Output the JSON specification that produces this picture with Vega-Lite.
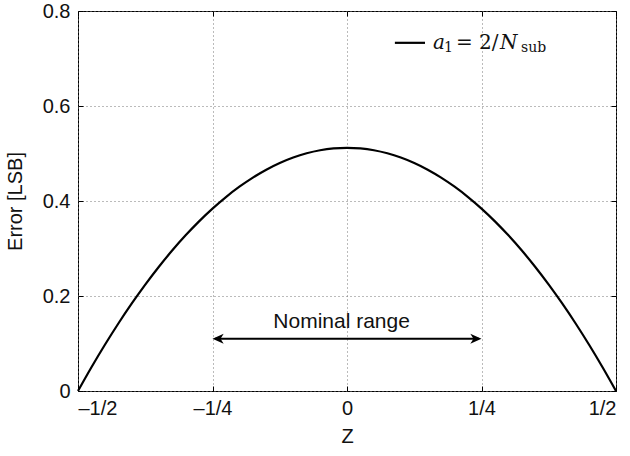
{
  "$schema": "https://vega.github.io/schema/vega-lite/v6.json",
  "width": 538,
  "height": 380,
  "autosize": "none",
  "padding": {"left": 78, "top": 11, "right": 14, "bottom": 65},
  "background": "white",
  "config": {
    "view": {"stroke": "black", "strokeWidth": 1},
    "font": "Liberation Sans",
    "axis": {
      "domain": false,
      "tickColor": "black",
      "tickWidth": 1,
      "labelColor": "#111111",
      "titleColor": "#111111",
      "labelFont": "Liberation Sans",
      "titleFont": "Liberation Sans",
      "labelFontSize": 20,
      "titleFontSize": 20,
      "titleFontWeight": "normal",
      "labelFontWeight": "normal",
      "gridColor": "#777777",
      "gridDash": [1, 3],
      "gridWidth": 1
    }
  },
  "datasets": {
    "curve": [
      {"z": -0.5, "err": 0},
      {"z": -0.475, "err": 0.04992},
      {"z": -0.45, "err": 0.09728},
      {"z": -0.425, "err": 0.14208},
      {"z": -0.4, "err": 0.18432},
      {"z": -0.375, "err": 0.224},
      {"z": -0.35, "err": 0.26112},
      {"z": -0.325, "err": 0.29568},
      {"z": -0.3, "err": 0.32768},
      {"z": -0.275, "err": 0.35712},
      {"z": -0.25, "err": 0.384},
      {"z": -0.225, "err": 0.40832},
      {"z": -0.2, "err": 0.43008},
      {"z": -0.175, "err": 0.44928},
      {"z": -0.15, "err": 0.46592},
      {"z": -0.125, "err": 0.48},
      {"z": -0.1, "err": 0.49152},
      {"z": -0.075, "err": 0.50048},
      {"z": -0.05, "err": 0.50688},
      {"z": -0.025, "err": 0.51072},
      {"z": 0, "err": 0.512},
      {"z": 0.025, "err": 0.51072},
      {"z": 0.05, "err": 0.50688},
      {"z": 0.075, "err": 0.50048},
      {"z": 0.1, "err": 0.49152},
      {"z": 0.125, "err": 0.48},
      {"z": 0.15, "err": 0.46592},
      {"z": 0.175, "err": 0.44928},
      {"z": 0.2, "err": 0.43008},
      {"z": 0.225, "err": 0.40832},
      {"z": 0.25, "err": 0.384},
      {"z": 0.275, "err": 0.35712},
      {"z": 0.3, "err": 0.32768},
      {"z": 0.325, "err": 0.29568},
      {"z": 0.35, "err": 0.26112},
      {"z": 0.375, "err": 0.224},
      {"z": 0.4, "err": 0.18432},
      {"z": 0.425, "err": 0.14208},
      {"z": 0.45, "err": 0.09728},
      {"z": 0.475, "err": 0.04992},
      {"z": 0.5, "err": 0}
    ],
    "one": [{"n": 1}]
  },
  "data": {"name": "curve"},
  "layer": [
    {
      "layer": [
        {
          "mark": {"type": "line", "color": "black", "strokeWidth": 2.2, "interpolate": "monotone"},
          "encoding": {
            "x": {
              "field": "z", "type": "quantitative",
              "scale": {"domain": [-0.5, 0.5], "nice": false, "zero": false},
              "axis": {
                "values": [-0.5, -0.25, 0, 0.25, 0.5],
                "labelExpr": "datum.value == -0.5 ? '\u20131/2' : datum.value == -0.25 ? '\u20131/4' : datum.value == 0 ? '0' : datum.value == 0.25 ? '1/4' : '1/2'",
                "ticks": false,
                "labelPadding": 7,
                "title": "Z",
                "titlePadding": 8,
                "grid": true
              }
            },
            "y": {
              "field": "err", "type": "quantitative",
              "scale": {"domain": [0, 0.8], "nice": false},
              "axis": {
                "values": [0, 0.2, 0.4, 0.6, 0.8],
                "labelExpr": "datum.value == 0 ? '0' : format(datum.value, '.1f')",
                "ticks": false,
                "labelPadding": 8,
                "title": "Error [LSB]",
                "titlePadding": 17,
                "grid": true
              }
            }
          }
        },
        {
          "data": {"name": "one"},
          "mark": {"type": "rule", "color": "black", "strokeWidth": 2},
          "encoding": {
            "x": {"datum": -0.245, "type": "quantitative"},
            "x2": {"datum": 0.245},
            "y": {"datum": 0.11, "type": "quantitative"}
          }
        },
        {
          "data": {"name": "one"},
          "mark": {"type": "point", "shape": "M0,0 L1,-0.45 L0.72,0 L1,0.45 Z", "filled": true, "color": "black", "opacity": 1, "size": 500},
          "encoding": {
            "x": {"datum": -0.25, "type": "quantitative"},
            "y": {"datum": 0.11, "type": "quantitative"}
          }
        },
        {
          "data": {"name": "one"},
          "mark": {"type": "point", "shape": "M0,0 L-1,-0.45 L-0.72,0 L-1,0.45 Z", "filled": true, "color": "black", "opacity": 1, "size": 500},
          "encoding": {
            "x": {"datum": 0.25, "type": "quantitative"},
            "y": {"datum": 0.11, "type": "quantitative"}
          }
        },
        {
          "data": {"name": "one"},
          "mark": {"type": "text", "text": "Nominal range", "font": "Liberation Sans", "fontSize": 21, "fontWeight": "normal", "align": "center", "baseline": "alphabetic", "color": "#111111"},
          "encoding": {
            "x": {"datum": -0.01, "type": "quantitative"},
            "y": {"datum": 0.133, "type": "quantitative"}
          }
        },
        {
          "data": {"name": "one"},
          "mark": {"type": "rule", "color": "black", "strokeWidth": 2.2},
          "encoding": {
            "x": {"datum": 0.089, "type": "quantitative"},
            "x2": {"datum": 0.145},
            "y": {"datum": 0.733, "type": "quantitative"}
          }
        },
        {
          "data": {"name": "one"},
          "mark": {"type": "text", "text": "a", "font": "DejaVu Serif", "fontStyle": "italic", "fontWeight": "normal", "fontSize": 20, "align": "left", "baseline": "alphabetic", "color": "#111111", "dx": 0},
          "encoding": {"x": {"datum": 0.16, "type": "quantitative"}, "y": {"datum": 0.72, "type": "quantitative"}}
        },
        {
          "data": {"name": "one"},
          "mark": {"type": "text", "text": "1", "font": "DejaVu Serif", "fontWeight": "normal", "fontSize": 14, "align": "left", "baseline": "alphabetic", "color": "#111111", "dx": 11, "dy": 3},
          "encoding": {"x": {"datum": 0.16, "type": "quantitative"}, "y": {"datum": 0.72, "type": "quantitative"}}
        },
        {
          "data": {"name": "one"},
          "mark": {"type": "text", "text": "=", "font": "DejaVu Serif", "fontWeight": "normal", "fontSize": 20, "align": "left", "baseline": "alphabetic", "color": "#111111", "dx": 23},
          "encoding": {"x": {"datum": 0.16, "type": "quantitative"}, "y": {"datum": 0.72, "type": "quantitative"}}
        },
        {
          "data": {"name": "one"},
          "mark": {"type": "text", "text": "2/", "font": "DejaVu Serif", "fontWeight": "normal", "fontSize": 20, "align": "left", "baseline": "alphabetic", "color": "#111111", "dx": 46},
          "encoding": {"x": {"datum": 0.16, "type": "quantitative"}, "y": {"datum": 0.72, "type": "quantitative"}}
        },
        {
          "data": {"name": "one"},
          "mark": {"type": "text", "text": "N", "font": "DejaVu Serif", "fontStyle": "italic", "fontWeight": "normal", "fontSize": 20, "align": "left", "baseline": "alphabetic", "color": "#111111", "dx": 67},
          "encoding": {"x": {"datum": 0.16, "type": "quantitative"}, "y": {"datum": 0.72, "type": "quantitative"}}
        },
        {
          "data": {"name": "one"},
          "mark": {"type": "text", "text": "sub", "font": "DejaVu Serif", "fontWeight": "normal", "fontSize": 14, "align": "left", "baseline": "alphabetic", "color": "#111111", "dx": 88, "dy": 3},
          "encoding": {"x": {"datum": 0.16, "type": "quantitative"}, "y": {"datum": 0.72, "type": "quantitative"}}
        }
      ]
    },
    {
      "mark": {"type": "line", "opacity": 0},
      "encoding": {
        "x": {
          "field": "z", "type": "quantitative",
          "axis": {"orient": "top", "values": [-0.5, -0.25, 0, 0.25, 0.5], "labels": false, "title": null, "grid": false, "ticks": true, "tickSize": 5, "offset": -5}
        },
        "y": {
          "field": "err", "type": "quantitative",
          "axis": {"orient": "right", "values": [0, 0.2, 0.4, 0.6, 0.8], "labels": false, "title": null, "grid": false, "ticks": true, "tickSize": 5, "offset": -5}
        }
      }
    },
    {
      "mark": {"type": "line", "opacity": 0},
      "encoding": {
        "x": {
          "field": "z", "type": "quantitative",
          "axis": {"orient": "bottom", "values": [-0.5, -0.25, 0, 0.25, 0.5], "labels": false, "title": null, "grid": false, "ticks": true, "tickSize": 5, "offset": -5}
        },
        "y": {
          "field": "err", "type": "quantitative",
          "axis": {"orient": "left", "values": [0, 0.2, 0.4, 0.6, 0.8], "labels": false, "title": null, "grid": false, "ticks": true, "tickSize": 5, "offset": -5}
        }
      }
    }
  ],
  "resolve": {"axis": {"x": "independent", "y": "independent"}}
}
